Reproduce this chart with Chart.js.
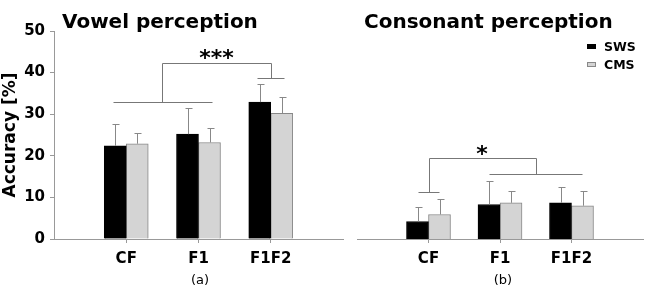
<!DOCTYPE html>
<html>
<head>
<meta charset="utf-8">
<script src="https://cdn.jsdelivr.net/npm/chart.js@4.4.0/dist/chart.umd.min.js"></script>
<style>
  html, body { margin: 0; padding: 0; background: #fff; overflow: hidden; }
  #wrap { position: relative; width: 645px; height: 290px; overflow: hidden; font-family: "DejaVu Sans", sans-serif; }
  canvas { position: absolute; top: 0; }
  #c1 { left: 0; }
  #c2 { left: 350px; }
  .title { position: absolute; top: 11px; font-weight: bold; font-size: 20px; line-height: 20px; white-space: nowrap; color: #000; }
  .sub { position: absolute; top: 272px; font-size: 13px; line-height: 16px; width: 40px; text-align: center; color: #000; }
  .leg { position: absolute; left: 587px; font-size: 12.5px; font-weight: bold; line-height: 14px; white-space: nowrap; }
  .leg i { display: inline-block; width: 7px; height: 3px; border: 1px solid; vertical-align: middle; margin-right: 8px; position: relative; top: -1px; }
</style>
</head>
<body>
<div id="wrap">
  <canvas id="c1" width="350" height="290"></canvas>
  <canvas id="c2" width="300" height="290"></canvas>
  <div class="title" style="left:62px">Vowel perception</div>
  <div class="title" style="left:364px">Consonant perception</div>
  <div class="sub" style="left:180px">(a)</div>
  <div class="sub" style="left:483px">(b)</div>
  <div class="leg" style="top:40px"><i style="background:#000;border-color:#000"></i>SWS</div>
  <div class="leg" style="top:58px"><i style="background:#d4d4d4;border-color:#888"></i>CMS</div>
</div>
<script>
const categories = ["CF", "F1", "F1F2"];
const yTicks = [0, 10, 20, 30, 40, 50];

// vowel perception (a)
const vowelSWS = [22.4, 25.2, 32.9];
const vowelCMS = [22.9, 23.2, 30.2];
const vowelSWSsd = [5.3, 6.3, 4.4];
const vowelCMSsd = [2.7, 3.4, 4.0];

// consonant perception (b)
const consSWS = [4.2, 8.3, 8.7];
const consCMS = [5.9, 8.7, 8.0];
const consSWSsd = [3.6, 5.7, 3.9];
const consCMSsd = [3.8, 2.9, 3.5];

// significance brackets, [category index, value]
const vowelBrackets = [
  [[0.81, 33.0], [2.19, 33.0]],
  [[2.81, 38.8], [3.19, 38.8]],
  [[1.5, 33.0], [1.5, 42.4], [3.0, 42.4], [3.0, 38.8]]
];
const vowelStars = ["***", 2.25, 44.8];
const consBrackets = [
  [[0.85, 11.3], [1.15, 11.3]],
  [[1.85, 15.6], [3.15, 15.6]],
  [[1.0, 11.3], [1.0, 19.4], [2.5, 19.4], [2.5, 15.6]]
];
const consStars = ["*", 1.75, 21.6];

Chart.defaults.font.family = "DejaVu Sans";
Chart.defaults.color = "#000";

const AXIS = "#999";
const pad = (arr) => [null, ...arr, null];

const extras = {
  id: "extras",
  afterDatasetsDraw(chart, args, opts) {
    const ctx = chart.ctx;
    const xs = chart.scales.x, ys = chart.scales.y;
    ctx.save();
    ctx.lineWidth = 1;
    // error bars (upper only)
    ctx.strokeStyle = "#888";
    chart.data.datasets.forEach((ds, i) => {
      const meta = chart.getDatasetMeta(i);
      meta.data.forEach((el, j) => {
        const v = ds.data[j];
        if (v == null) return;
        const x = Math.round(el.x) + 0.5;
        const y0 = ys.getPixelForValue(v);
        const y1 = Math.round(ys.getPixelForValue(v + ds.sd[j])) + 0.5;
        ctx.beginPath();
        ctx.moveTo(x, y0);
        ctx.lineTo(x, y1);
        ctx.moveTo(x - 3, y1);
        ctx.lineTo(x + 4, y1);
        ctx.stroke();
      });
    });
    // brackets
    ctx.strokeStyle = "#777";
    opts.brackets.forEach((pts) => {
      ctx.beginPath();
      pts.forEach((p, k) => {
        const px = Math.round(xs.getPixelForValue(p[0])) + 0.5;
        const py = Math.round(ys.getPixelForValue(p[1])) + 0.5;
        if (k === 0) ctx.moveTo(px, py); else ctx.lineTo(px, py);
      });
      ctx.stroke();
    });
    // stars
    const [txt, sx, sy] = opts.stars;
    ctx.fillStyle = "#000";
    ctx.font = "bold 22px 'DejaVu Sans'";
    ctx.textAlign = "center";
    ctx.textBaseline = "alphabetic";
    ctx.fillText(txt, xs.getPixelForValue(sx), ys.getPixelForValue(sy) + 12);
    ctx.restore();
  }
};

function makeChart(id, sws, cms, swsSd, cmsSd, brackets, stars, showY, padding) {
  return new Chart(document.getElementById(id), {
    type: "bar",
    data: {
      labels: ["", ...categories, ""],
      datasets: [
        { label: "SWS", data: pad(sws), sd: pad(swsSd), backgroundColor: "#000", borderColor: "#000", borderWidth: 1 },
        { label: "CMS", data: pad(cms), sd: pad(cmsSd), backgroundColor: "#d4d4d4", borderColor: "#888", borderWidth: 1 }
      ]
    },
    options: {
      responsive: false,
      animation: false,
      barThickness: 22,
      layout: { padding: padding },
      plugins: {
        legend: { display: false },
        tooltip: { enabled: false },
        extras: { brackets: brackets, stars: stars }
      },
      scales: {
        x: {
          offset: false,
          grid: {
            offset: false,
            drawOnChartArea: false,
            tickLength: 4,
            color: (c) => (c.index === 0 || c.index === 4 ? "rgba(0,0,0,0)" : AXIS)
          },
          border: { color: AXIS },
          ticks: { padding: 7, font: { size: 15, weight: "bold" }, maxRotation: 0, autoSkip: false },
          afterFit: (s) => { s.height = 51; }
        },
        y: {
          display: showY,
          min: 0,
          max: 50,
          grid: { drawOnChartArea: false, tickLength: 4, color: AXIS },
          border: { color: AXIS },
          ticks: {
            padding: 5,
            stepSize: 10,
            font: { size: 15, weight: "bold" },
            callback: (v) => (yTicks.includes(v) ? v : "")
          },
          title: {
            display: true,
            text: "Accuracy [%]",
            padding: { top: 0, bottom: 0 },
            font: { size: 17, weight: "bold" }
          },
          afterFit: (s) => { s.width = showY ? 54 : 0; }
        }
      }
    },
    plugins: [extras]
  });
}

makeChart("c1", vowelSWS, vowelCMS, vowelSWSsd, vowelCMSsd, vowelBrackets, vowelStars, true,
  { left: 0, right: 4, top: 31, bottom: 0 });
makeChart("c2", consSWS, consCMS, consSWSsd, consCMSsd, consBrackets, consStars, false,
  { left: 4, right: 4, top: 31, bottom: 0 });
</script>
</body>
</html>
